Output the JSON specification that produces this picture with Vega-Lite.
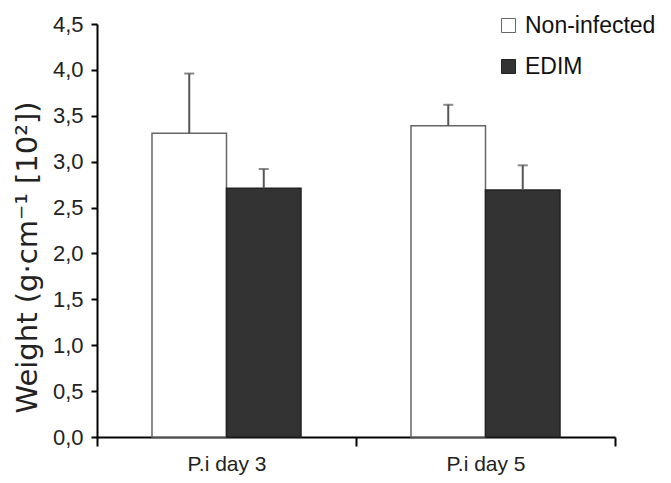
{
  "$schema": "https://vega.github.io/schema/vega-lite/v6.json",
  "width": 518,
  "height": 413,
  "autosize": "none",
  "padding": {"left": 97, "top": 24, "right": 56, "bottom": 46},
  "background": "white",
  "config": {"view": {"stroke": null}, "font": "Liberation Sans"},
  "data": {
    "values": [
      {"day": "P.i day 3", "group": "Non-infected", "mean": 3.31, "upper": 3.96},
      {"day": "P.i day 3", "group": "EDIM", "mean": 2.71, "upper": 2.92},
      {"day": "P.i day 5", "group": "Non-infected", "mean": 3.39, "upper": 3.62},
      {"day": "P.i day 5", "group": "EDIM", "mean": 2.69, "upper": 2.96}
    ]
  },
  "encoding": {
    "x": {
      "field": "day", "type": "nominal",
      "scale": {"paddingInner": 0, "paddingOuter": 0},
      "axis": {
        "title": null, "labelAngle": 0, "tickBand": "extent",
        "domainColor": "black", "domainWidth": 2,
        "tickColor": "black", "tickWidth": 2, "tickSize": 9,
        "labelFont": "Liberation Sans", "labelFontSize": 21, "labelColor": "#222", "labelPadding": 7
      }
    },
    "xOffset": {
      "field": "group", "type": "nominal", "sort": ["Non-infected", "EDIM"],
      "scale": {"paddingInner": 0, "paddingOuter": 0.738}
    }
  },
  "layer": [
    {
      "mark": {"type": "bar", "strokeWidth": 1.5},
      "encoding": {
        "y": {
          "field": "mean", "type": "quantitative",
          "scale": {"domain": [0, 4.5], "nice": false},
          "axis": {
            "values": [0, 0.5, 1, 1.5, 2, 2.5, 3, 3.5, 4, 4.5],
            "labelExpr": "replace(format(datum.value, '.1f'), '.', ',')",
            "grid": false,
            "domainColor": "black", "domainWidth": 2,
            "tickColor": "black", "tickWidth": 2, "tickSize": 6,
            "labelFont": "Liberation Sans", "labelFontSize": 22, "labelColor": "#222", "labelPadding": 8,
            "title": "Weight (g·cm⁻¹  [10²])",
            "titleFont": "DejaVu Sans", "titleFontSize": 29, "titleFontWeight": "normal", "titleColor": "#222",
            "titleX": -61, "titleY": 233, "titleAlign": "center", "titleAngle": 270, "titleBaseline": "alphabetic"
          }
        },
        "fill": {
          "field": "group", "type": "nominal",
          "scale": {"domain": ["Non-infected", "EDIM"], "range": ["#ffffff", "#333333"]},
          "legend": {
            "title": null, "orient": "none", "legendX": 400, "legendY": -10,
            "symbolType": "square", "symbolSize": 196, "symbolStrokeColor": "#555", "symbolStrokeWidth": 1,
            "labelFont": "Liberation Sans", "labelFontSize": 23, "labelColor": "#111",
            "rowPadding": 17, "labelOffset": 5, "labelLimit": 300
          }
        },
        "stroke": {
          "field": "group", "type": "nominal",
          "scale": {"domain": ["Non-infected", "EDIM"], "range": ["#666666", "#222222"]},
          "legend": null
        }
      }
    },
    {
      "mark": {"type": "rule", "color": "#555555", "strokeWidth": 2},
      "encoding": {
        "y": {"field": "mean", "type": "quantitative"},
        "y2": {"field": "upper"}
      }
    },
    {
      "mark": {"type": "tick", "color": "#555555", "thickness": 2, "size": 10},
      "encoding": {
        "y": {"field": "upper", "type": "quantitative"}
      }
    }
  ]
}
